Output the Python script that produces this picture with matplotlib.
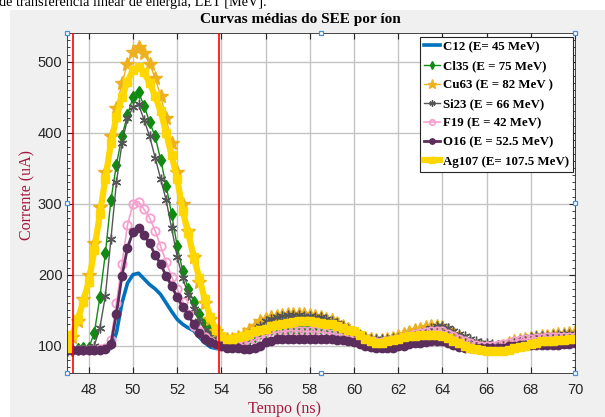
import matplotlib
matplotlib.use('Agg')
import matplotlib.pyplot as plt
import numpy as np
from matplotlib.lines import Line2D
from matplotlib.patches import Rectangle
from matplotlib.ticker import MultipleLocator

# time axis (ns), one sample every 0.25 ns
time_ns = np.arange(47.0, 70.01, 0.25)

# mean SEE current curves (uA)
c12 = [94, 94, 94, 94, 94, 94, 94, 94, 96, 118, 160, 188,
       200, 202, 194, 186, 180, 172, 160, 148, 137, 130, 125, 121,
       112, 104, 98, 96, 95, 95, 95, 95, 95, 96, 99, 102,
       104, 105, 106, 106, 106, 106, 106, 106, 106, 106, 106, 106,
       106, 106, 105, 105, 104, 104, 103, 103, 103, 103, 103, 104,
       104, 105, 105, 106, 106, 107, 107, 107, 107, 106, 104, 102,
       100, 98, 97, 97, 97, 97, 97, 98, 99, 100, 101, 102,
       102, 103, 103, 104, 104, 104, 105, 105, 105]
cl35 = [94, 94, 95, 96, 97, 118, 168, 230, 305, 355, 395, 425,
        450, 457, 438, 415, 395, 362, 325, 285, 240, 205, 180, 162,
        145, 132, 122, 115, 108, 104, 103, 104, 106, 110, 114, 118,
        121, 123, 124, 125, 125, 125, 125, 125, 125, 125, 125, 124,
        123, 121, 118, 115, 112, 110, 108, 107, 106, 106, 106, 108,
        110, 112, 114, 117, 119, 121, 122, 122, 121, 118, 114, 110,
        106, 103, 100, 99, 98, 98, 99, 100, 101, 103, 104, 106,
        107, 108, 109, 110, 110, 111, 111, 112, 112]
cu63 = [97, 112, 135, 165, 200, 245, 295, 345, 395, 435, 470, 497,
        514, 520, 512, 497, 477, 452, 420, 385, 345, 300, 262, 225,
        190, 160, 138, 120, 112, 110, 110, 112, 116, 122, 128, 134,
        138, 141, 142, 143, 144, 144, 144, 144, 143, 142, 140, 138,
        136, 132, 128, 123, 118, 114, 111, 109, 108, 108, 109, 111,
        113, 116, 119, 122, 124, 126, 128, 128, 126, 122, 117, 112,
        107, 103, 100, 98, 97, 97, 98, 100, 103, 106, 108, 110,
        111, 112, 113, 114, 115, 116, 117, 118, 119]
si23 = [94, 94, 94, 94, 95, 100, 125, 170, 250, 330, 385, 420,
        436, 440, 418, 395, 365, 335, 305, 265, 225, 195, 172, 152,
        135, 122, 114, 108, 105, 103, 104, 106, 110, 116, 122, 128,
        134, 138, 141, 142, 143, 143, 143, 142, 142, 141, 140, 138,
        135, 132, 128, 124, 119, 115, 112, 110, 110, 110, 110, 111,
        111, 112, 114, 117, 117, 121, 125, 128, 128, 125, 120, 116,
        113, 110, 106, 103, 103, 102, 101, 101, 102, 105, 108, 110,
        112, 113, 114, 114, 115, 115, 116, 116, 117]
f19 = [94, 94, 94, 94, 94, 94, 95, 97, 108, 160, 215, 270,
       300, 303, 292, 280, 262, 240, 218, 197, 180, 162, 145, 128,
       120, 112, 106, 102, 100, 99, 99, 100, 101, 104, 108, 111,
       114, 117, 119, 120, 121, 121, 121, 120, 120, 120, 119, 118,
       117, 116, 115, 113, 111, 109, 107, 106, 105, 105, 106, 108,
       110, 112, 114, 116, 118, 119, 120, 121, 120, 117, 113, 109,
       106, 103, 101, 100, 100, 100, 101, 102, 104, 106, 108, 109,
       110, 111, 111, 112, 112, 112, 112, 112, 112]
o16 = [94, 94, 94, 94, 94, 94, 94, 95, 102, 145, 198, 238,
       260, 266, 256, 244, 228, 215, 198, 184, 168, 155, 143, 130,
       118, 110, 105, 102, 99, 97, 96, 96, 95, 95, 96, 99,
       105, 107, 109, 110, 110, 110, 110, 110, 110, 110, 110, 109,
       109, 108, 108, 107, 105, 102, 100, 98, 97, 96, 96, 97,
       99, 100, 102, 103, 103, 105, 106, 107, 106, 104, 101, 98,
       97, 96, 96, 96, 96, 96, 96, 97, 99, 100, 101, 101,
       101, 101, 101, 101, 101, 101, 102, 102, 103]
ag107 = [97, 115, 137, 162, 190, 235, 285, 335, 385, 422, 450, 472,
         488, 493, 485, 470, 452, 430, 400, 368, 335, 290, 258, 225,
         195, 165, 140, 122, 113, 110, 110, 112, 114, 117, 120, 122,
         124, 127, 129, 131, 132, 133, 134, 134, 134, 133, 132, 131,
         131, 128, 125, 122, 120, 115, 110, 106, 104, 104, 106, 108,
         110, 112, 113, 114, 115, 115, 115, 115, 114, 111, 107, 103,
         100, 97, 95, 94, 93, 92, 92, 93, 94, 96, 98, 100,
         102, 104, 106, 107, 107, 108, 108, 109, 110]

series = [c12, cl35, cu63, si23, f19, o16, ag107]
labels = ['C12 (E= 45 MeV)', 'Cl35 (E = 75 MeV)', 'Cu63 (E = 82 MeV )',
          'Si23 (E = 66 MeV)', 'F19 (E = 42 MeV)', 'O16 (E = 52.5 MeV)',
          'Ag107 (E= 107.5 MeV)']
window_ns = [47.27, 53.89]

styles = [
    dict(color='#0072BD', lw=2.6),
    dict(color='#108a10', lw=1.0, marker='d', ms=6),
    dict(color='#EDB120', lw=1.0, marker='*', ms=10),
    dict(color='#555555', lw=1.0, marker=(6, 2, 0), ms=7),
    dict(color='#f79fcf', lw=1.2, marker='o', ms=6, mfc='none', mew=1.3),
    dict(color='#5a2d5c', lw=2.0, marker='o', ms=6),
    dict(color='#FFD700', lw=4.5, marker='s', ms=6),
]

serif = 'Liberation Serif'
sans = 'Liberation Sans'
red_label = '#a3173f'

W, H = 605, 417
fig = plt.figure(figsize=(W / 100, H / 100), dpi=100, facecolor='white')
fig.patches.append(Rectangle((10 / W, 0), 1, 1 - 10 / H, transform=fig.transFigure,
                             facecolor='#f0f0f0', edgecolor='none', zorder=-10))
# caption of the page above, cut by the screenshot
fig.text(-0.002, 1 - 6 / H, 'de transferência linear de energia, LET [MeV].',
         family=serif, fontsize=10.3, va='baseline', ha='left', color='black')

ax_l, ax_r, ax_t, ax_b = 66.7, 575, 33.3, 373.3
ax = fig.add_axes([ax_l / W, 1 - ax_b / H, (ax_r - ax_l) / W, (ax_b - ax_t) / H])
ax.set_facecolor('white')

for y, lab, st in zip(series, labels, styles):
    ax.plot(time_ns, y, label=lab, **st)
for xv in window_ns:
    ax.axvline(xv, color='red', lw=1.2, zorder=5)

ax.set_xlim(47, 70)
ax.set_ylim(61, 540)
ax.xaxis.set_major_locator(MultipleLocator(2))
ax.yaxis.set_major_locator(MultipleLocator(100))
ax.yaxis.set_minor_locator(MultipleLocator(10))
ax.grid(True, which='major', color='#c4c4c4', lw=1.0)
ax.set_axisbelow(True)
ax.tick_params(which='both', direction='in', top=True, right=True,
               colors='#262626', labelsize=10.5)
ax.tick_params(axis='x', which='major', length=4, pad=7)
ax.tick_params(axis='y', which='major', length=4, pad=3)
ax.tick_params(which='minor', length=2.5)
ax.tick_params(axis='x', which='minor', top=False, bottom=False)
for lbl in ax.get_xticklabels() + ax.get_yticklabels():
    lbl.set_family(sans)
for sp in ax.spines.values():
    sp.set_color('#262626')
    sp.set_linewidth(0.6)

leg = ax.legend(loc='upper right', bbox_to_anchor=(0.996, 0.989), fancybox=False,
                framealpha=1, edgecolor='#262626', handlelength=1.3, handletextpad=0.2,
                borderpad=0.3, labelspacing=0.55, borderaxespad=0, markerscale=0.65,
                prop=dict(family=serif, weight='bold', size=9.3))
leg.get_frame().set_linewidth(0.8)

fig.text(300 / W, 1 - 20 / H, 'Curvas médias do SEE por íon', family=serif,
         weight='bold', fontsize=11, ha='center', va='center')
fig.text(27 / W, 1 - 195 / H, 'Corrente (uA)', family=serif, fontsize=11.5,
         color=red_label, rotation=90, ha='center', va='center')
fig.text(285 / W, 1 - 409 / H, 'Tempo (ns)', family=serif, fontsize=11.5,
         color=red_label, ha='center', va='center')

# axes selection handles
xm = (ax_l + ax_r) / 2
ym = (ax_t + ax_b) / 2
hx = [ax_l, ax_l, ax_l, xm, ax_r, ax_r, ax_r, xm]
hy = [ax_t, ym, ax_b, ax_b, ax_b, ym, ax_t, ax_t]
fig.lines.append(Line2D([x / W for x in hx], [1 - y / H for y in hy], ls='none',
                        marker='s', ms=3.5, mfc='white', mec='#4a90d9', mew=0.9,
                        transform=fig.transFigure, zorder=20))

fig.savefig('out.png', dpi=100)
